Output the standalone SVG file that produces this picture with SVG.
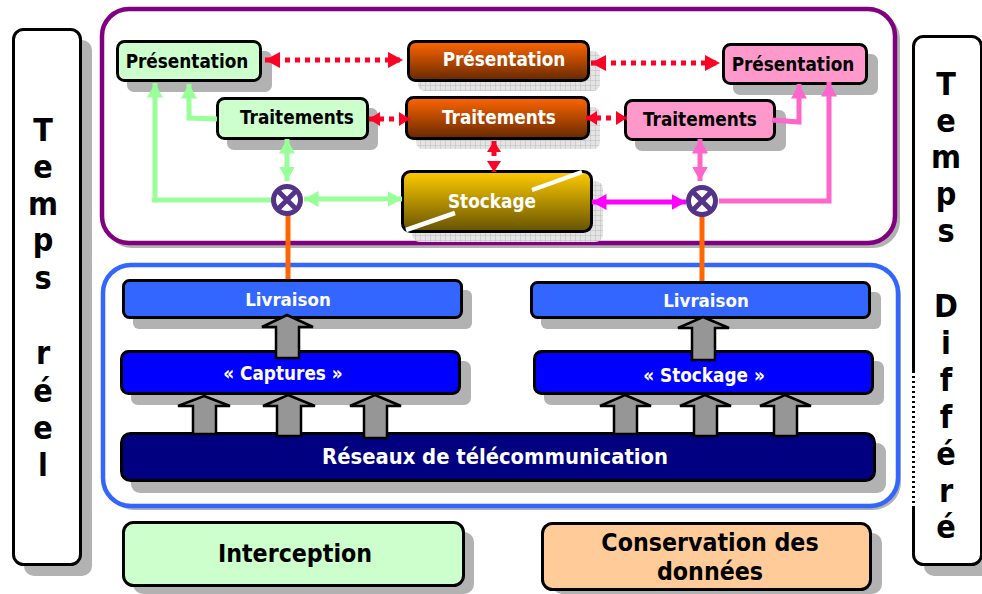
<svg xmlns="http://www.w3.org/2000/svg" width="982" height="594" viewBox="0 0 982 594">
<style>
text{font-family:"DejaVu Sans Condensed","DejaVu Sans","Liberation Sans",sans-serif;font-weight:bold;text-anchor:middle}
.b{stroke:#000;stroke-width:3}
.s{fill:#b2b2b2}
.w{fill:#fff}.k{fill:#000}
.t18{font-size:18.800px}.t17{font-size:18.500px}.t22{font-size:21.800px}.t25{font-size:24.700px}.t30{font-size:32px}
.red{fill:none;stroke:#ff0026;stroke-width:5;stroke-dasharray:5 5}
.g{fill:none;stroke:#99ff99;stroke-width:5}
.p{fill:none;stroke:#ff66cc;stroke-width:5}
.m{fill:none;stroke:#ff00ff;stroke-width:5}
.o{fill:none;stroke:#ff6600;stroke-width:5}
.up{fill:#969696;stroke:#000;stroke-width:2.500;stroke-linejoin:miter}
</style>
<defs>
<linearGradient id="og" x1="0" y1="0" x2="0" y2="1"><stop offset="0" stop-color="#ff6600"/><stop offset="1" stop-color="#662900"/></linearGradient>
<linearGradient id="yg" x1="0" y1="0" x2="0" y2="1"><stop offset="0" stop-color="#ffcc00"/><stop offset="1" stop-color="#665200"/></linearGradient>
<pattern id="grid" width="5" height="5" patternUnits="userSpaceOnUse"><rect width="5" height="5" fill="#e4e4e4"/><path d="M0 0H5M0 0V5" stroke="#bbb" stroke-width="1"/></pattern>
<marker id="rE" markerUnits="userSpaceOnUse" markerWidth="16" markerHeight="16" refX="15" refY="8" orient="auto-start-reverse"><path d="M0 0L15 8L0 16z" fill="#ff0026"/></marker>
<marker id="rS" markerUnits="userSpaceOnUse" markerWidth="12" markerHeight="14" refX="11" refY="7" orient="auto-start-reverse"><path d="M0 0L11 7L0 14z" fill="#ff0026"/></marker>
<marker id="gE" markerUnits="userSpaceOnUse" markerWidth="15" markerHeight="16" refX="14.500" refY="8" orient="auto-start-reverse"><path d="M0 0L14.500 8L0 16z" fill="#99ff99"/></marker>
<marker id="pE" markerUnits="userSpaceOnUse" markerWidth="15" markerHeight="16" refX="14.500" refY="8" orient="auto-start-reverse"><path d="M0 0L14.500 8L0 16z" fill="#ff66cc"/></marker>
<marker id="mE" markerUnits="userSpaceOnUse" markerWidth="15" markerHeight="16" refX="14.500" refY="8" orient="auto-start-reverse"><path d="M0 0L14.500 8L0 16z" fill="#ff00ff"/></marker>
</defs>
<rect width="982" height="594" fill="#fff"/>

<g id="frame-top"><rect x="105" y="12" width="795" height="236" rx="27" class="s"/><rect x="102" y="9" width="793" height="234" rx="27" fill="#fff" stroke="#800080" stroke-width="4.500"/></g>
<g id="frame-bottom"><rect x="106" y="268" width="795" height="242" rx="28" class="s"/><rect x="103" y="265" width="795" height="241" rx="28" fill="#fff" stroke="#3366ff" stroke-width="4.500"/></g>

<g id="temps-reel"><rect x="24" y="40" width="68" height="536" rx="10" class="s"/><rect x="13.500" y="29.500" width="67" height="535" rx="10" class="b" fill="#fff"/>
<g class="k t30"><text x="43" y="141">T</text><text x="43" y="178">e</text><text x="43" y="215">m</text><text x="43" y="251">p</text><text x="43" y="289">s</text><text x="43" y="364">r</text><text x="43" y="402">é</text><text x="43" y="439">e</text><text x="43" y="476">l</text></g></g>

<g id="temps-differe"><rect x="924" y="47" width="70" height="529" rx="10" class="s"/><rect x="913.500" y="36.500" width="68" height="528" rx="10" class="b" fill="#fff"/>
<path d="M913.500 373V508" stroke="#fff" stroke-width="3" stroke-dasharray="3 2"/>
<g class="k t30"><text x="946" y="95">T</text><text x="946" y="132">e</text><text x="946" y="168">m</text><text x="946" y="205">p</text><text x="946" y="242">s</text><text x="946" y="317">D</text><text x="946" y="354">i</text><text x="946" y="391">f</text><text x="946" y="428">f</text><text x="946" y="465">é</text><text x="946" y="502">r</text><text x="946" y="538">é</text></g></g>

<g id="presentation-green"><rect x="127" y="51" width="145" height="41" rx="7" class="s"/><rect x="117.500" y="41.500" width="143" height="39" rx="7" class="b" fill="#ccffcc"/><text x="187" y="68" class="k t18">Présentation</text></g>
<g id="traitements-green"><rect x="227" y="108" width="151" height="42" rx="7" class="s"/><rect x="217.500" y="98.500" width="150" height="40" rx="7" class="b" fill="#ccffcc"/><text x="297" y="124" class="k t18">Traitements</text></g>
<g id="presentation-orange"><rect x="418" y="51" width="182" height="40" rx="7" fill="url(#grid)"/><rect x="408.500" y="41.500" width="180" height="39" rx="7" class="b" fill="url(#og)"/><text x="504" y="66" class="w t18">Présentation</text></g>
<g id="traitements-orange"><rect x="416" y="107" width="184" height="42" rx="7" fill="url(#grid)"/><rect x="406.500" y="97.500" width="182" height="41" rx="7" class="b" fill="url(#og)"/><text x="499" y="124" class="w t18">Traitements</text></g>
<g id="stockage"><rect x="412" y="181" width="191" height="61" rx="8" fill="url(#grid)"/><rect x="402.500" y="171.500" width="189" height="60" rx="8" class="b" fill="url(#yg)"/><path d="M406 230L455 213M532 190L582 172" stroke="#fff" stroke-width="4.500" fill="none"/><text x="492" y="208" class="w t18">Stockage</text></g>
<g id="presentation-pink"><rect x="733" y="54" width="145" height="41" rx="7" class="s"/><rect x="723.500" y="44.500" width="143" height="39" rx="7" class="b" fill="#ff99cc"/><text x="793" y="71" class="k t18">Présentation</text></g>
<g id="traitements-pink"><rect x="635" y="110" width="151" height="41" rx="7" class="s"/><rect x="625.500" y="100.500" width="149" height="39" rx="7" class="b" fill="#ff99cc"/><text x="700" y="126" class="k t18">Traitements</text></g>

<g id="connectors">
<path class="red" d="M265 60H403" marker-start="url(#rE)" marker-end="url(#rE)"/>
<path class="red" d="M591 63H720" marker-start="url(#rE)" marker-end="url(#rE)"/>
<path class="red" d="M369 119H410" marker-start="url(#rS)" marker-end="url(#rS)"/>
<path class="red" d="M586 118H627" marker-start="url(#rS)" marker-end="url(#rS)"/>
<path class="red" d="M494 141V172" marker-start="url(#rS)" marker-end="url(#rS)"/>
<path class="g" d="M152 200H155V83" marker-end="url(#gE)"/>
<path class="g" d="M155 200H274"/>
<path class="g" d="M217 119L189 118V84" marker-end="url(#gE)"/>
<path class="g" d="M287 139V181" marker-start="url(#gE)" marker-end="url(#gE)"/>
<path class="g" d="M304 199H402" marker-start="url(#gE)" marker-end="url(#gE)"/>
<path class="p" d="M772 120L799 122V84" marker-end="url(#pE)"/>
<path class="p" d="M719 201H829V82" marker-end="url(#pE)"/>
<path class="p" d="M700 139V181" marker-start="url(#pE)" marker-end="url(#pE)"/>
<path class="m" d="M592 202H686" marker-start="url(#mE)" marker-end="url(#mE)"/>
<path class="o" d="M288 213V280"/>
<path class="o" d="M702 213V282"/>
</g>

<g id="mux-left"><circle cx="287" cy="200" r="13.500" fill="#fff" stroke="#553388" stroke-width="5"/><path d="M278 191L296 209M296 191L278 209" stroke="#553388" stroke-width="5"/></g>
<g id="mux-right"><circle cx="702" cy="201" r="13.500" fill="#fff" stroke="#553388" stroke-width="5"/><path d="M693 192L711 210M711 192L693 210" stroke="#553388" stroke-width="5"/></g>

<g id="livraison-left"><rect x="133" y="290" width="339" height="39" rx="6" class="s"/><rect x="123.500" y="280.500" width="338" height="37" rx="6" class="b" fill="#3366ff"/><text x="288" y="306" class="w t17">Livraison</text></g>
<g id="livraison-right"><rect x="541" y="292" width="340" height="37" rx="6" class="s"/><rect x="531.500" y="282.500" width="338" height="35" rx="6" class="b" fill="#3366ff"/><text x="706" y="307" class="w t17">Livraison</text></g>
<g id="captures"><rect x="131" y="361" width="340" height="44" rx="7" class="s"/><rect x="121.500" y="351.500" width="338" height="42" rx="7" class="b" fill="#0000ff"/><text x="283" y="380" class="w t18">« Captures »</text></g>
<g id="stockage-bas"><rect x="544" y="361" width="340" height="44" rx="7" class="s"/><rect x="534.500" y="351.500" width="338" height="42" rx="7" class="b" fill="#0000ff"/><text x="704" y="382" class="w t18">« Stockage »</text></g>
<g id="reseaux"><rect x="131" y="443" width="755" height="50" rx="9" class="s"/><rect x="121.500" y="433.500" width="753" height="47" rx="9" class="b" fill="#000080"/><text x="495" y="464" class="w t22">Réseaux de télécommunication</text></g>

<g id="block-arrows">
<path class="up" d="M287 315L313 327H299V358H276V327H262z"/>
<path class="up" d="M703 317L729 328H715V360H692V328H678z"/>
<path class="up" d="M204 396L230 406H216V434H193V406H178z"/>
<path class="up" d="M288 395L315 406H301V436H277V406H263z"/>
<path class="up" d="M375 395L401 406H387V438H364V406H350z"/>
<path class="up" d="M625 395L651 406H637V434H614V406H600z"/>
<path class="up" d="M705 395L731 406H717V436H694V406H680z"/>
<path class="up" d="M785 395L811 406H797V436H774V406H760z"/>
</g>

<g id="interception"><rect x="133" y="532" width="341" height="62" rx="10" class="s"/><rect x="123.500" y="522.500" width="340" height="63" rx="10" class="b" fill="#ccffcc"/><text x="295" y="562" class="k t25">Interception</text></g>
<g id="conservation"><rect x="552" y="533" width="330" height="61" rx="10" class="s"/><rect x="542.500" y="523.500" width="328" height="66" rx="10" class="b" fill="#ffcc99"/><text x="710" y="551" class="k t25">Conservation des</text><text x="710" y="580" class="k t25">données</text></g>
</svg>
